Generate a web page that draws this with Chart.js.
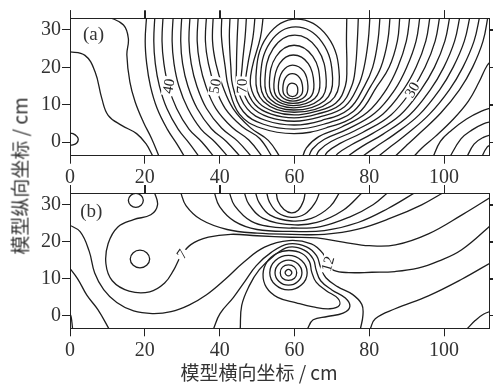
<!DOCTYPE html>
<html>
<head>
<meta charset="utf-8">
<script src="https://cdn.jsdelivr.net/npm/chart.js@4.4.0/dist/chart.umd.min.js"></script>
<style>
  body { margin: 0; background: #fff; width: 493px; height: 385px; position: relative; overflow: hidden; }
  #wa { position: absolute; left: 0; top: 0; }
  #wb { position: absolute; left: 0; top: 180px; }
  .ttl { position: absolute; font-family: "Noto Sans CJK SC", sans-serif; font-size: 19px; color: #333; white-space: nowrap; }
  #ytitle { left: 19px; top: 176px; transform: translate(-50%, -50%) rotate(-90deg); }
  #xtitle { left: 259px; top: 371px; transform: translate(-50%, -50%); }
</style>
</head>
<body>
<canvas id="wa" width="493" height="188"></canvas>
<canvas id="wb" width="493" height="205"></canvas>
<div class="ttl" id="ytitle">模型纵向坐标 / cm</div>
<div class="ttl" id="xtitle">模型横向坐标 / cm</div>
<script>
// --- ejes ---
const xTicks = [0, 20, 40, 60, 80, 100];
const yTicks = [0, 10, 20, 30];
const xRange = [0, 112];
const aRange = [-3.6, 33.1];
const bRange = [-3.5, 33.2];

// --- panel (a): isolíneas, en cm ---
const aFarLeft = [
  [[-0.5,24.2],[4,23.2],[6.7,18.8],[8.5,11.7],[10.2,7.2],[13.8,4.5],[17.8,2.3],[20.3,-0.4],[22.2,-3.8]],
  [[10.2,33.6],[14.3,31.3],[15.6,27.7],[15.2,23.3],[16,16.1],[17.4,10.8],[19.6,5.4],[21.8,1],[23.8,-3.8]],
  [[-0.5,2.5],[0.8,2.3],[1.9,1.5],[2.2,0.7],[1.8,-0.2],[0.8,-0.7],[-0.5,-0.8]]
];
const aLoops = [
  [[59.5,12.2],[60.6,12.7],[60.9,14.0],[60.5,15.3],[59.3,15.8],[58.4,15.3],[58.0,14.0],[58.3,12.7]],
  [[59.5,11.6],[61.7,12.5],[62.2,14.5],[61.4,17.2],[59.4,18.3],[57.6,17.2],[56.9,14.5],[57.4,12.5]],
  [[59.6,11.0],[62.8,12.2],[63.6,15.0],[62.5,18.9],[59.5,20.6],[56.8,18.9],[55.7,15.0],[56.5,12.2]],
  [[59.6,10.4],[64.1,11.9],[65.2,15.5],[63.7,21.0],[59.7,23.3],[56.0,21.0],[54.5,15.5],[55.5,11.9]],
  [[59.7,9.8],[65.4,11.7],[66.8,16.0],[64.9,22.9],[59.9,25.9],[55.1,22.9],[53.3,16.0],[54.6,11.7]],
  [[59.8,9.2],[66.8,11.4],[68.5,16.5],[66.1,25.0],[60.1,28.6],[54.3,25.0],[52.1,16.5],[53.6,11.4]],
  [[59.8,8.6],[68.1,11.1],[70.2,17.0],[67.4,26.7],[60.3,30.8],[53.5,26.7],[50.9,17.0],[52.7,11.1]],
  [[59.9,8.0],[69.6,10.9],[72.0,17.5],[68.8,28.3],[60.5,32.9],[52.7,28.3],[49.7,17.5],[51.7,10.9]]
];
const aU = [
  [[51.7,34],[50.9,28],[48.7,20],[48.3,15],[50.5,10.5],[54.5,8.2],[59.9,7.3],[65.5,8.2],[71,10.4],[73.6,15],[74.0,20],[73.9,27],[74.0,34]],
  [[49.5,34],[48.9,28],[47.4,20],[47.1,15],[49.5,10.0],[53.8,7.5],[59.9,6.5],[66,7.5],[72.2,10],[75.3,15],[76.3,20],[76.8,27],[77.1,34]],
  [[47.2,34],[46.8,28],[46.0,20],[45.9,15],[48.5,9.5],[53.1,6.7],[59.9,5.6],[66.6,6.7],[73.4,9.5],[77.0,15],[78.6,20],[79.7,27],[80.2,34]],
  [[45.0,34],[44.7,28],[44.5,20],[44.7,15],[47.4,8.9],[52.4,5.8],[59.9,4.6],[67.2,5.8],[74.6,8.9],[78.7,15],[80.9,20],[82.3,27],[82.9,34]],
  [[42.8,34],[42.6,28],[43.0,20],[43.5,15],[46.3,8.2],[51.7,4.8],[59.9,3.5],[67.8,4.8],[75.8,8.3],[80.4,15],[83.1,20],[84.9,27],[85.6,34]],
  [[40.6,34],[40.5,28],[41.5,20],[42.3,15],[45.3,7.5],[51,3.8],[59.9,2.3],[68.4,3.8],[77,7.7],[82.1,15],[85.3,20],[87.5,27],[88.2,34]]
];
const aLeftV = [
  [[38.3,34],[38.1,27],[39.0,21],[40.8,15],[43.6,9],[48.2,3.9],[53,0.5],[56.5,-4.5]],
  [[36.5,34],[36.2,27],[37.0,21],[38.7,15],[41.5,9],[46,4.2],[50.7,1],[54.4,-4.5]],
  [[34.3,34],[34.0,27],[34.7,21],[36.3,15],[39,9],[43.3,4.0],[47.8,0.6],[51.9,-4.5]],
  [[32.1,34],[31.8,27],[32.4,21],[33.9,15],[36.5,9],[40.5,3.8],[44.8,0.3],[49.1,-4.5]],
  [[29.9,34],[29.6,27],[30.1,21],[31.5,15],[34,9],[37.8,3.6],[41.8,0.2],[46.1,-4.5]],
  [[27.6,34],[27.3,27],[27.8,21],[29.1,15],[31.5,9],[35,3.5],[38.8,0],[42.8,-4.5]],
  [[24.9,34],[24.6,27],[25.1,21],[26.3,15],[28.5,9],[31.8,3.5],[35.3,0],[39,-4.5]],
  [[22.7,34],[22.4,27],[22.8,21],[23.9,15],[25.9,9],[28.9,3.5],[31.9,-0.3],[35,-4.5]],
  [[20.5,34],[20.1,27],[20.5,21],[21.5,15],[23.3,9],[26,3.5],[28.6,-0.5],[31,-4.5]]
];
const aRightV = [
  [[90.9,34],[89.9,27],[87.6,20],[84.5,14],[79.5,8],[72.5,4],[66.5,1.5],[63.2,-1.5],[62,-4.5]],
  [[93.6,34],[92.5,27],[90,20],[86.8,14],[81.5,7.8],[74.2,3.5],[68,0.8],[64.8,-1.8],[63.6,-4.5]],
  [[96.3,34],[95.1,27],[92.5,20],[89.1,14],[83.6,7.5],[76,3.0],[69.8,0.2],[66.6,-2.2],[65.5,-4.5]],
  [[98.9,34],[97.6,27],[94.9,20],[91.4,14],[85.8,7.3],[78.2,2.6],[72.2,-0.3],[68.8,-2.6],[67.8,-4.5]],
  [[101.6,34],[100.2,27],[97.4,20],[93.8,14],[88.2,7.2],[80.8,2.3],[75,-0.8],[71.6,-3],[70.6,-4.5]],
  [[104.3,34],[102.8,27],[99.9,20],[96.3,14],[90.7,7.2],[83.6,2.1],[78.1,-1.1],[74.9,-3.3],[73.8,-4.5]],
  [[107,34],[105.4,27],[102.4,20],[98.8,14],[93.3,7.3],[86.7,2.1],[81.8,-1.2],[78.6,-3.5],[77.6,-4.5]],
  [[109.6,34],[108,27],[105,20],[101.4,14],[96.1,7.5],[90.2,2.3],[85.8,-1.1],[82.8,-3.5],[81.8,-4.5]],
  [[111.8,34],[110.4,27],[107.6,20],[104.1,14],[99.1,7.8],[93.9,2.8],[89.9,-0.9],[87.2,-3.5],[86.3,-4.5]]
];
const aEdge = [
  [[113,22],[111.5,20.5],[109.3,16],[106.5,11],[102.3,6],[97.6,1.5],[94,-1.6],[91.3,-4.5]],
  [[113,9.3],[110,8.3],[106,6.2],[102,3.2],[99,0.2],[96.8,-4.5]],
  [[113,5.6],[110.5,4.9],[107.5,3.3],[104.5,0.9],[101.2,-4.5]],
  [[113,2.1],[110.5,1.3],[108,-0.5],[105.8,-4.5]],
  [[113,-0.5],[111.5,-1.3],[109.8,-4.5]]
];
const aLabels = [['40', 26.3, 15, -80], ['50', 38.7, 15, -80], ['70', 45.9, 15, -88], ['30', 91.4, 14, -60]];

// --- panel (b) ---
const bLoops = [
  [[17.6,33.1],[19,32.5],[19.6,31.2],[19,29.9],[17.6,29.3],[16.2,29.9],[15.6,31.2],[16.2,32.5]],
  [[18.7,17.7],[20.5,17],[21.3,15.3],[20.5,13.6],[18.7,12.9],[16.9,13.6],[16.1,15.3],[16.9,17]],
  [[58.4,12.5],[59,12.2],[59.3,11.6],[59,11],[58.4,10.7],[57.8,11],[57.5,11.6],[57.8,12.2]],
  [[58.4,13.7],[60,13.1],[60.6,11.6],[60,10.1],[58.4,9.5],[56.8,10.1],[56.2,11.6],[56.8,13.1]],
  [[58.4,15],[60.9,14],[62,11.6],[60.9,9.2],[58.4,8.2],[55.9,9.2],[54.8,11.6],[55.9,14]],
  [[58.4,16.3],[61.9,14.9],[63.4,11.6],[61.9,8.3],[58.4,6.9],[54.9,8.3],[53.4,11.6],[54.9,14.9]],
  [[58.5,17.6],[62,16.8],[64,14.6],[64.6,11.8],[65.8,9],[68.5,6.7],[71.6,4.6],[72,2.7],[69.5,1.8],[65,2.3],[60.5,3.4],[55.5,4.9],[52.5,7.6],[51.6,11.2],[52.7,14.6],[55.2,16.8]]
];
const bU = [
  [[55.1,33.6],[55.6,31],[57.2,28.7],[59.2,27.8],[61,28.5],[62.4,31],[62.9,33.6]],
  [[52.5,33.6],[53.3,30.8],[55.5,27.9],[59.2,26.6],[62.8,27.5],[65.5,30.5],[66.8,33.6]],
  [[49.5,33.6],[50.6,30.5],[53.5,27.2],[59.2,25.6],[64.5,26.3],[69.5,29.5],[72.2,33.6]],
  [[46.5,33.6],[47.8,30.2],[51.5,26.4],[59.2,24.6],[66,25.2],[73,28.5],[78.4,33.6]],
  [[42.5,33.6],[44,29.8],[48.5,25.5],[54,24],[59.2,23.7],[67,24.1],[75,26.8],[81,30],[85.3,33.6]],
  [[38.5,33.6],[40,29.5],[44,25.5],[50,23.3],[59.2,22.8],[68,23],[77,25.2],[85,29],[92.7,33.6]],
  [[29.5,33.6],[31,29.8],[35,26],[42,23.3],[50,22.3],[59.2,22.0],[68,22],[77,23.4],[86,26.5],[94,30],[100.3,33.6]]
];
const bLobe = [
  [[22.5,33.6],[23.4,30],[21.6,27.3],[17,26],[12.8,24],[10.2,19.5],[9.6,14],[11.3,9.4],[15.8,6.6],[21.3,6.4],[25.3,8.8],[27.7,12.3],[29.6,16],[32.3,19.2],[37,21.2],[43,22],[50,21.6],[59.2,21.2],[66,21],[73,19.9],[80,18.9],[87,19.1],[95.8,22.1],[105,27.4],[113,32.4]]
];
const bOuter = [
  [[-0.5,24.7],[2.7,22.7],[5.1,17.5],[6.6,11.5],[9,7],[12.5,3.5],[17,1.2],[22,0.5],[27,1],[31.8,2.8],[36.5,5.6],[41.5,9.8],[46.5,14.5],[52,18.5],[58.5,20.3],[64.5,19.4],[67.6,16.8],[68.8,14],[70.5,12.2],[74.5,11.6],[80.7,11.7],[86.9,11.9],[93,12.8],[98.5,14.7],[104.7,17.8],[113,24.9]],
  [[38.3,-3.8],[40.1,0.5],[43.7,4.9],[46.8,9.3],[49.8,13.5],[53.8,17.1],[58.5,19.4],[63.2,18.6],[65.9,16.2],[67,13],[68.4,10.2],[71.5,7.8],[75.5,5.7],[78,3],[78.3,0],[77.6,-3.8]],
  [[45.5,-3.8],[45.9,2.7],[47.9,8],[50.6,12.4],[54.3,16],[58.5,18.5],[62.6,17.7],[65,15.3],[65.8,12.3],[67,9.4],[70,6.9],[73.6,4.7],[74.8,2.4],[73,0.6],[68.8,-0.3],[65,-1.2],[63.4,-3.8]]
];
const bEdge = [
  [[-0.5,13.4],[2,10],[4.5,5.5],[7.5,1.5],[10.5,-3.8]],
  [[-0.5,0.9],[0.2,0],[0.5,-1.8],[0.7,-3.8]],
  [[80.2,-3.8],[81.6,-0.9],[86.9,1.8],[95.8,5.3],[104.7,9.8],[113,14.6]],
  [[106,-3.8],[108.3,-1.4],[110.5,0.3],[113,1.3]]
];
const bLabels = [['7', 29.9, 16.6, -55], ['12', 68.9, 14, -75]];

const lineColor = '#1e1e1e';
const axisColor = '#222';
const tickLen = 8;
const tickFont = { family: '"Liberation Serif", serif', size: 20 };

function abiertas(lines) {
  return lines.map(pts => ({ data: pts.map(([x, y]) => ({ x, y })) }));
}
// lazo cerrado: se repiten vecinos para que la curva sea suave en la unión
function cerradas(loops) {
  return loops.map(pts => {
    const n = pts.length;
    const seq = [pts[n - 1], ...pts, pts[0], pts[1]];
    return {
      data: seq.map(([x, y]) => ({ x, y })),
      segment: { borderColor: c => (c.p0DataIndex === 0 || c.p0DataIndex === n + 1) ? 'rgba(0,0,0,0)' : undefined }
    };
  });
}

const etiquetas = {
  id: 'etiquetas',
  afterDraw(chart, args, opts) {
    const { ctx, chartArea: ca } = chart;
    const sx = chart.scales.x, sy = chart.scales.y;
    ctx.save();
    // marcas hacia fuera en los ejes superior y derecho
    ctx.strokeStyle = axisColor;
    ctx.lineWidth = 1;
    ctx.beginPath();
    xTicks.forEach(v => {
      const px = Math.round(sx.getPixelForValue(v)) + 0.5;
      ctx.moveTo(px, ca.top); ctx.lineTo(px, ca.top - tickLen);
    });
    yTicks.forEach(v => {
      const py = Math.round(sy.getPixelForValue(v)) + 0.5;
      ctx.moveTo(ca.right, py); ctx.lineTo(ca.right + tickLen, py);
    });
    ctx.stroke();

    ctx.font = '15px "Liberation Serif", serif';
    ctx.textAlign = 'center';
    ctx.textBaseline = 'middle';
    opts.items.forEach(([txt, dx, dy, ang]) => {
      const px = sx.getPixelForValue(dx), py = sy.getPixelForValue(dy);
      ctx.save();
      ctx.translate(px, py);
      ctx.rotate(ang * Math.PI / 180);
      const w = ctx.measureText(txt).width;
      ctx.fillStyle = '#fff';
      ctx.fillRect(-w / 2 - 2, -6, w + 4, 12);
      ctx.fillStyle = '#222';
      ctx.fillText(txt, 0, 1);
      ctx.restore();
    });
    ctx.font = '19px "Liberation Serif", serif';
    ctx.fillStyle = '#333';
    ctx.fillText(opts.tag[0], sx.getPixelForValue(opts.tag[1]), sy.getPixelForValue(opts.tag[2]));
    ctx.restore();
  }
};

function crearPanel(id, datasets, yr, labels, tag, topH, botH) {
  const ejeX = (pos, h, show) => ({
    type: 'linear', position: pos, min: xRange[0], max: xRange[1], display: true,
    afterBuildTicks: s => { s.ticks = xTicks.map(v => ({ value: v })); },
    afterFit: s => { s.height = h; },
    grid: { drawOnChartArea: false, tickLength: tickLen, color: axisColor },
    border: { color: axisColor, width: 1 },
    ticks: { padding: 2, font: tickFont, color: show ? '#333' : 'rgba(0,0,0,0)' }
  });
  const ejeY = (pos, w, show) => ({
    type: 'linear', position: pos, min: yr[0], max: yr[1], display: true,
    afterBuildTicks: s => { s.ticks = yTicks.map(v => ({ value: v })); },
    afterFit: s => { s.width = w; },
    grid: { drawOnChartArea: false, tickLength: tickLen, color: axisColor },
    border: { color: axisColor, width: 1 },
    ticks: { padding: 1, font: tickFont, color: show ? '#333' : 'rgba(0,0,0,0)' }
  });
  datasets.forEach(d => Object.assign(d, {
    showLine: true, borderColor: lineColor, borderWidth: 1.3, pointRadius: 0, tension: 0.4, fill: false
  }));
  return new Chart(document.getElementById(id), {
    type: 'scatter',
    data: { datasets },
    options: {
      responsive: false,
      animation: false,
      layout: { padding: 0, autoPadding: false },
      plugins: { legend: { display: false }, tooltip: { enabled: false }, etiquetas: { items: labels, tag } },
      scales: {
        x: ejeX('bottom', botH, true),
        x2: Object.assign(ejeX('top', topH, false), { axis: 'x' }),
        y: ejeY('left', 70, true),
        y2: Object.assign(ejeY('right', 4, false), { axis: 'y' })
      }
    },
    plugins: [etiquetas]
  });
}

crearPanel('wa',
  [...abiertas(aFarLeft), ...cerradas(aLoops), ...abiertas(aU), ...abiertas(aLeftV), ...abiertas(aRightV), ...abiertas(aEdge)],
  aRange, aLabels, ['(a)', 6.3, 28.6], 18.3, 188 - 155.7);

crearPanel('wb',
  [...cerradas(bLoops), ...abiertas(bU), ...abiertas(bLobe), ...abiertas(bOuter), ...abiertas(bEdge)],
  bRange, bLabels, ['(b)', 5.7, 28], 10.7, 56.7);
</script>
</body>
</html>
